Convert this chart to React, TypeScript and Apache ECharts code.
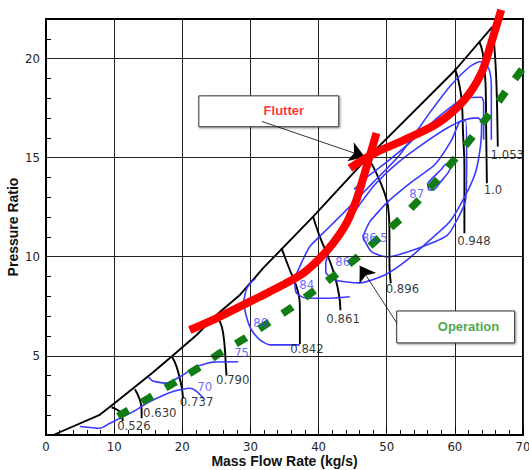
import React, { useEffect, useRef } from "react";
import * as echarts from "echarts";

type P = [number, number];

const xMin = 0;
const xMax = 70;
const yMin = 1;
const yMax = 22;
const yLabelValues = [5, 10, 15, 20];

const surgeLine: P[] = [
  [1.07, 1.0], [7.8, 2.0], [9.4, 2.43], [12.8, 3.36], [15.5, 4.1], [18.7, 5.04],
  [22.1, 6.05], [25.0, 7.06], [28.45, 8.07], [31.86, 9.42], [39.2, 12.02], [47.2, 15.0],
  [60.0, 19.4], [65.5, 21.6],
];

const speed0526: P[] = [[9.63, 2.4], [10.85, 2.18], [11.2, 1.89], [11.25, 1.7]];
const speed0630: P[] = [[13.05, 3.31], [13.78, 2.77], [14.03, 2.26], [14.03, 1.85]];
const speed0737: P[] = [[18.43, 5.0], [19.16, 4.45], [19.9, 3.44], [20.1, 2.85]];
const speed0790: P[] = [[25.0, 7.06], [25.8, 6.47], [26.2, 5.55], [26.4, 4.45], [26.5, 4.0]];
const speed0842: P[] = [[34.56, 10.43], [35.78, 9.33], [36.76, 8.49], [37.24, 7.65], [37.26, 6.8], [37.26, 5.6]];
const speed0861: P[] = [[39.2, 12.02], [40.18, 11.01], [41.4, 10.0], [42.4, 9.0], [43.05, 7.98], [43.2, 7.3]];
const speed0896: P[] = [[47.3, 14.97], [48.5, 14.21], [49.7, 13.2], [50.2, 12.53], [50.4, 11.35], [50.4, 9.67], [50.6, 8.66]];
const speed0948: P[] = [[60.0, 19.5], [60.5, 18.93], [61.0, 17.9], [61.2, 16.24], [61.4, 14.55], [61.4, 12.87], [61.4, 11.18]];
const speed1000: P[] = [[63.6, 20.86], [64.1, 20.27], [64.5, 18.76], [64.6, 16.24], [64.7, 13.71]];
const speed1053: P[] = [[65.5, 21.54], [65.8, 20.6], [66.1, 18.76], [66.3, 15.56]];

const speedLabels: [number, number, string][] = [
  [12.9, 1.5, "0.526"], [16.7, 2.16, "0.630"], [22.1, 2.67, "0.737"], [27.4, 3.78, "0.790"],
  [38.3, 5.38, "0.842"], [43.6, 6.89, "0.861"], [52.3, 8.42, "0.896"], [62.8, 10.8, "0.948"],
  [65.6, 13.4, "1.0"], [67.7, 15.14, "1.053"],
];

const eff70: P[] = [[4.97, 1.43], [7.9, 1.34], [9.38, 1.59], [12.8, 2.18], [15.25, 2.69], [18.66, 3.2], [21.1, 3.36], [22.1, 3.2], [23.07, 2.86]];
const eff75: P[] = [[15.0, 3.94], [15.5, 3.76], [16.2, 3.68], [17.7, 3.62], [19.65, 3.94], [22.1, 4.45], [24.5, 4.68], [28.2, 4.7]];
const eff80: P[] = [[30.72, 8.88], [30.16, 8.73], [29.43, 8.37], [29.03, 7.72], [29.43, 6.96], [30.16, 6.3], [31.38, 5.8], [32.84, 5.55], [37.24, 5.55]];
const eff84: P[] = [
  [44.57, 7.98], [41.16, 7.9], [38.23, 7.9], [36.76, 8.16], [36.51, 8.83], [37.24, 9.5], [38.71, 10.51],
  [40.66, 11.19], [42.62, 11.86], [44.57, 12.53], [47.95, 13.73], [51.9, 15.14], [56.3, 17.26], [59.24, 18.58],
  [62.17, 19.59], [63.64, 19.84], [64.52, 19.74], [65.1, 19.38], [65.35, 18.68], [65.35, 15.9],
];
const eff85: P[] = [
  [45.2, 13.4], [47.4, 14.1], [49.71, 14.7], [53.37, 15.75], [57.04, 16.9], [59.97, 17.7],
  [61.44, 18.02], [63.93, 18.05], [64.22, 17.77], [64.22, 15.9],
];
const eff86: P[] = [
  [41.06, 9.74], [41.94, 10.6], [43.4, 11.35], [45.45, 12.36], [48.24, 13.63], [51.61, 14.74], [55.13, 15.65],
  [58.94, 16.51], [61.44, 16.91], [63.34, 17.01], [63.93, 16.81], [63.78, 15.65], [63.05, 14.28], [61.58, 13.12],
  [59.24, 11.76], [55.87, 10.7], [52.64, 9.74], [49.71, 9.08], [46.04, 8.68], [42.38, 8.83], [41.06, 9.23], [41.06, 9.74],
];
const eff865: P[] = [
  [46.48, 11.0], [47.51, 11.76], [50.15, 12.77], [53.67, 13.78], [57.04, 14.64], [59.53, 15.9], [60.7, 16.81],
  [61.58, 16.86], [61.73, 14.89], [61.58, 12.87], [60.7, 12.11], [58.94, 11.1], [55.13, 10.49], [50.15, 9.99],
  [47.8, 10.24], [46.48, 11.0],
];
const eff87: P[] = [
  [56.16, 13.37], [56.01, 13.68], [56.74, 13.98], [57.92, 14.38], [58.8, 14.69], [59.38, 14.59],
  [59.09, 14.28], [57.92, 13.78], [56.89, 13.37], [56.16, 13.37],
];

const effLabels: [number, number, string][] = [
  [23.3, 3.44, "70"], [28.7, 5.14, "75"], [31.5, 6.66, "80"], [38.27, 8.58, "84"],
  [43.55, 9.74, "86"], [48.24, 10.95, "86.5"], [54.4, 13.17, "87"],
];

const operationLine: P[] = [
  [10.58, 1.94], [11.33, 2.1], [15.0, 2.85], [18.43, 3.56], [22.1, 4.33], [25.5, 5.13], [29.2, 5.88],
  [32.4, 6.61], [35.9, 7.4], [39.3, 8.27], [42.6, 9.12], [45.8, 10.0], [48.9, 10.96], [52.0, 11.9],
  [54.9, 12.92], [57.7, 14.0], [60.3, 15.06], [62.9, 16.2], [65.35, 17.33], [67.8, 18.5], [70.5, 19.75],
];

const flutterCurveA: P[] = [
  [21.1, 6.3], [25.0, 6.89], [28.45, 7.48], [31.38, 7.98], [34.79, 8.58], [37.73, 9.17], [40.18, 9.92],
  [42.13, 10.68], [44.09, 11.69], [45.56, 12.87], [46.77, 14.22], [48.5, 16.24],
];
const flutterCurveB: P[] = [
  [44.6, 14.47], [48.2, 15.23], [52.6, 15.9], [57.5, 16.74], [61.4, 17.92], [63.9, 19.27], [65.35, 20.8], [66.8, 22.46],
];

const flutterBox: [P, P] = [[22.43, 18.12], [42.96, 16.56]];
const operationBox: [P, P] = [[51.47, 7.26], [68.77, 5.65]];
const flutterText: P = [34.9, 17.4];
const operationText: P = [62.0, 6.5];
const flutterArrow: [P, P] = [[31.67, 16.83], [46.77, 15.05]];
const operationArrow: [P, P] = [[51.47, 6.66], [46.04, 9.54]];

const NARROW = "'Liberation Sans Narrow', 'DejaVu Sans Condensed', 'Arial Narrow', sans-serif";
const SANS = "'Liberation Sans', Arial, Helvetica, sans-serif";

const BLACK_LINES = [speed0526, speed0630, speed0737, speed0790, speed0842, speed0861, speed0896, speed0948, speed1000, speed1053];
const BLUE_LINES = [eff70, eff75, eff80, eff84, eff85, eff86, eff865, eff87];

export default function App() {
  const ref = useRef<HTMLDivElement>(null);
  useEffect(() => {
    document.body.style.margin = "0";
    if (!ref.current) return;
    const chart = echarts.init(ref.current, null, { renderer: "svg" });
    const lineSeries = (data: P[], color: string, width: number, smooth: number | boolean, z: number, extra: any = {}) => ({
      type: "line",
      data,
      symbol: "none",
      smooth,
      z,
      silent: true,
      lineStyle: { color, width },
      emphasis: { disabled: true },
      ...extra,
    });
    const series: any[] = [];
    series.push({
      type: "line",
      data: [],
      z: 1,
      silent: true,
      markLine: {
        silent: true,
        symbol: "none",
        label: { show: false },
        lineStyle: { color: "#222", width: 1, type: "solid" },
        emphasis: { disabled: true },
        data: yLabelValues.map((v) => ({ yAxis: v })),
      },
    });
    series.push(lineSeries(surgeLine, "#000", 1.9, false, 3));
    BLACK_LINES.forEach((d) => series.push(lineSeries(d, "#000", 1.9, 0.4, 3)));
    BLUE_LINES.forEach((d) => series.push(lineSeries(d, "#3a3aff", 1.6, 0.2, 3)));
    series.push(
      lineSeries(operationLine, "#127d12", 7.5, false, 4, {
        lineStyle: { color: "#127d12", width: 7.5, type: [12, 15.7], cap: "butt" },
      })
    );
    series.push(
      lineSeries(flutterCurveA, "#ff0000", 8, 0.3, 5, { clip: false, lineStyle: { color: "#ff0000", width: 8, cap: "butt" } })
    );
    series.push(
      lineSeries(flutterCurveB, "#ff0000", 8, 0.3, 5, { clip: false, lineStyle: { color: "#ff0000", width: 8, cap: "butt" } })
    );
    series.push({
      type: "line",
      data: [],
      z: 6,
      silent: true,
      markArea: {
        silent: true,
        itemStyle: {
          color: "#fff",
          borderColor: "#333",
          borderWidth: 1,
          shadowColor: "rgba(0,0,0,0.45)",
          shadowBlur: 2,
          shadowOffsetX: 1,
          shadowOffsetY: 1,
        },
        label: { show: false },
        emphasis: { disabled: true },
        data: [
          [{ coord: flutterBox[0] }, { coord: flutterBox[1] }],
          [{ coord: operationBox[0] }, { coord: operationBox[1] }],
        ],
      },
    });
    series.push({
      type: "line",
      data: [],
      z: 7,
      silent: true,
      markLine: {
        silent: true,
        symbol: ["none", "arrow"],
        symbolSize: 15,
        label: { show: false },
        lineStyle: { color: "#000", width: 0.8, type: "solid" },
        emphasis: { disabled: true },
        data: [
          [{ coord: flutterArrow[0] }, { coord: flutterArrow[1] }],
          [{ coord: operationArrow[0] }, { coord: operationArrow[1] }],
        ],
      },
    });
    const labelSeries = (items: [number, number, string][], color: string, font: string, size: number, weight: string, z: number) => ({
      type: "scatter",
      z,
      silent: true,
      symbolSize: 1,
      itemStyle: { color: "rgba(0,0,0,0)" },
      emphasis: { disabled: true },
      data: items.map((d) => ({ value: [d[0], d[1]], name: d[2] })),
      label: {
        show: true,
        position: "inside",
        formatter: (p: any) => p.name,
        color,
        fontFamily: font,
        fontSize: size,
        fontWeight: weight,
      },
    });
    series.push(labelSeries(speedLabels, "#000", NARROW, 13, "normal", 8));
    series.push(labelSeries(effLabels, "#4646ff", NARROW, 13, "normal", 8));
    series.push(labelSeries([[flutterText[0], flutterText[1], "Flutter"]], "#ff0000", SANS, 13, "bold", 9));
    series.push(labelSeries([[operationText[0], operationText[1], "Operation"]], "#1a8f1a", SANS, 13, "bold", 9));

    chart.setOption({
      animation: false,
      grid: {
        left: 46, right: 6, top: 19, bottom: 35,
        outerBoundsMode: "none",
        containLabel: false,
        show: true, borderColor: "#000", borderWidth: 2, backgroundColor: "#fff",
      },
      xAxis: {
        type: "value",
        min: xMin,
        max: xMax,
        interval: 10,
        name: "Mass Flow Rate (kg/s)",
        nameLocation: "middle",
        nameGap: 19,
        nameMoveOverlap: false,
        nameTextStyle: { fontFamily: SANS, fontSize: 14, fontWeight: "bold", color: "#111", verticalAlign: "top" },
        axisLine: { lineStyle: { color: "#000", width: 2 } },
        axisTick: { inside: true, length: 8, lineStyle: { color: "#000", width: 1 } },
        minorTick: { show: true, splitNumber: 5, length: 5, lineStyle: { color: "#000", width: 1 } },
        splitLine: { show: true, lineStyle: { color: "#222", width: 1 } },
        axisLabel: { fontFamily: NARROW, fontSize: 13, color: "#222", margin: 5 },
      },
      yAxis: {
        type: "value",
        min: yMin,
        max: yMax,
        interval: 1,
        name: "Pressure Ratio",
        nameLocation: "middle",
        nameGap: 26,
        nameMoveOverlap: false,
        nameTextStyle: { fontFamily: SANS, fontSize: 14, fontWeight: "bold", color: "#111" },
        axisLine: { lineStyle: { color: "#000", width: 2 } },
        axisTick: { inside: true, length: 5, lineStyle: { color: "#000", width: 1 } },
        splitLine: { show: false },
        axisLabel: {
          fontFamily: NARROW,
          fontSize: 13,
          color: "#222",
          margin: 6,
          formatter: (v: number) => (yLabelValues.indexOf(v) >= 0 ? String(v) : ""),
        },
      },
      series,
    });
    return () => chart.dispose();
  }, []);
  return <div ref={ref} style={{ width: 529, height: 470 }} />;
}
